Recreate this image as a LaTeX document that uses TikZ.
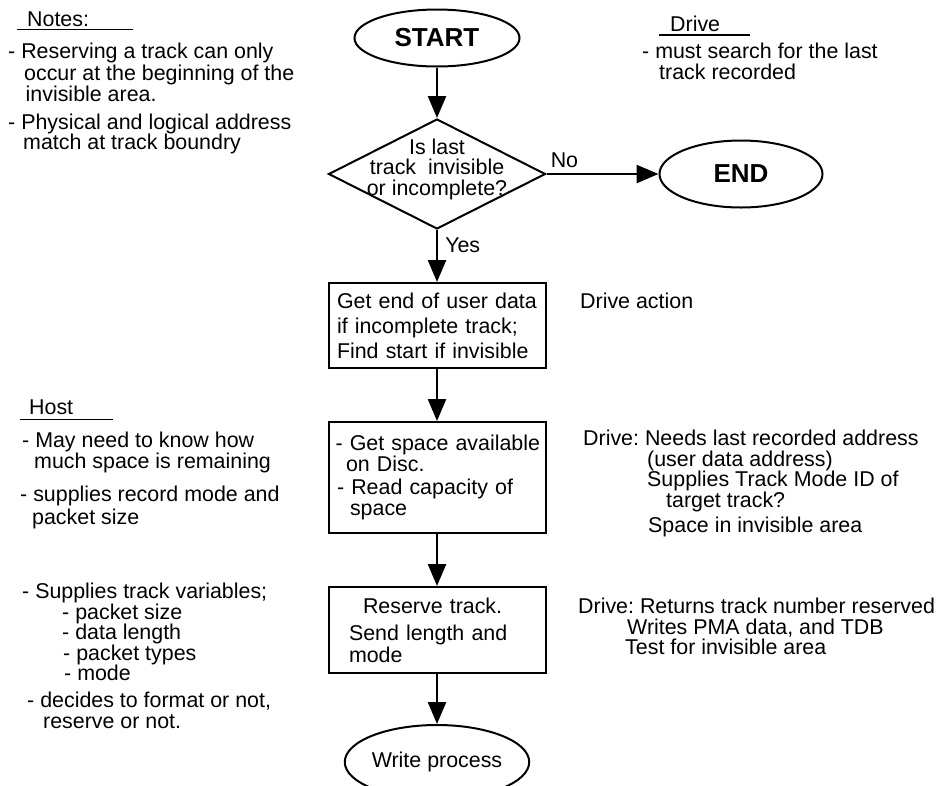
\documentclass[tikz,border=0pt]{standalone}
\usepackage{fontspec}
\setmainfont{Liberation Sans}
\usetikzlibrary{shapes.geometric, arrows.meta, positioning}
\frenchspacing

\tikzset{
  terminal/.style={draw, ellipse, line width=2pt, inner sep=0pt},
  decision/.style={draw, diamond, aspect=2, line width=2pt, inner sep=-12pt,
    align=center, minimum width=217pt, minimum height=110pt},
  process/.style={draw, rectangle, line width=2pt, text width=210pt,
    inner xsep=3.5pt, align=left},
  flow/.style={-{Triangle[width=18pt,length=22pt]}, line width=2.5pt},
  note/.style={anchor=north west, inner sep=0pt, align=left},
  headline/.style={line width=1.6pt},
}

\begin{document}
\begin{tikzpicture}[x=1pt, y=-1pt, font=\fontsize{21.4}{20.5}\selectfont]
    \useasboundingbox (0,0) rectangle (937,785);

    % Flow chart
    \node[terminal, minimum width=165pt, minimum height=57pt,
      font=\fontsize{26}{26}\selectfont\bfseries] (start) at (437,38) {START};
    \node[decision] (check) at (437,174) {Is last\\track~ invisible\\or incomplete?\rule[-14pt]{0pt}{14pt}};
    \node[terminal, minimum width=163pt, minimum height=67pt,
      font=\fontsize{26}{26}\selectfont\bfseries] (end) at (741,174) {END};
    \node[process, minimum height=85pt] (findend) at (437,325.5)
      {\hspace*{5pt}Get end of user data\\[4.5pt]\hspace*{5pt}if incomplete track;\\[4.5pt]\hspace*{5pt}Find start if invisible};
    \node[process, minimum height=111pt] (space) at (437,477.5)
      {\hspace*{3.5pt}- Get space available\\\hspace*{14pt}on Disc.\\[3pt]\hspace*{5pt}- Read capacity of\\\hspace*{18pt}space};
    \node[process, minimum height=86pt] (reserve) at (437,630)
      {\hspace*{31pt}Reserve track.\\[6.5pt]\hspace*{17pt}Send length and\\[1.5pt]\hspace*{17pt}mode};
    \node[terminal, minimum width=165pt, minimum height=74pt] (write) at (437,762) {Write process};

    % Arrows
    \draw[flow] (start) -- (check);
    \draw[flow] (check) -- node[pos=0, anchor=south west, xshift=3pt, yshift=5pt, inner sep=0pt] {No} (end);
    \draw[flow] (check) -- node[pos=0.3, right=7pt, inner sep=0pt] {Yes} (findend);
    \draw[flow] (findend) -- (space);
    \draw[flow] (space) -- (reserve);
    \draw[flow] (reserve) -- (write);

    % Notes
    \node[note] (noteshead) at (27,12) {Notes:};
    \draw[headline] (noteshead.south west) ++(-10,2) -- ++(116,0);
    \node[note] (noteslist) at (8,43) {- Reserving a track can only\\[1.5pt]\hspace*{16pt}occur at the beginning of the\\\hspace*{17.5pt}invisible area.\\[7.5pt]- Physical and logical address\\\hspace*{15pt}match at track boundry};

    % Drive
    \node[note] (drivehead) at (670,16) {Drive};
    \draw[headline] (drivehead.south west) ++(-11,3) -- ++(91,0);
    \node[note] (drivesearch) at (642,43) {- must search for the last\\\hspace*{17pt}track recorded};
    \node[note] (driveaction) at (580,293) {Drive action};
    \node[note] (driveneeds) at (583,430) {Drive: Needs last recorded address\\\hspace*{64pt}(user data address)\\\hspace*{64pt}Supplies Track Mode ID of\\\hspace*{83pt}target track?\\[4.5pt]\hspace*{65pt}Space in invisible area};
    \node[note] (drivereturns) at (578,598) {Drive: Returns track number reserved\\\hspace*{49pt}Writes PMA data, and TDB\\\hspace*{47pt}Test for invisible area};

    % Host
    \node[note] (hosthead) at (29,400) {Host};
    \draw[headline] (hosthead.south west) ++(-9,4) -- ++(93,0);
    \node[note] (hostneeds) at (22,432) {- May need to know how\\\hspace*{12pt}much space is remaining\\[13pt]\hspace*{-2pt}- supplies record mode and\\[2pt]\hspace*{10pt}packet size};
    \node[note] (hostvars) at (22,583) {- Supplies track variables;\\\hspace*{40pt}- packet size\\\hspace*{40pt}- data length\\\hspace*{41pt}- packet types\\\hspace*{42pt}- mode\\[6.5pt]\hspace*{5pt}- decides to format or not,\\\hspace*{21pt}reserve or not.};

\end{tikzpicture}
\end{document}
